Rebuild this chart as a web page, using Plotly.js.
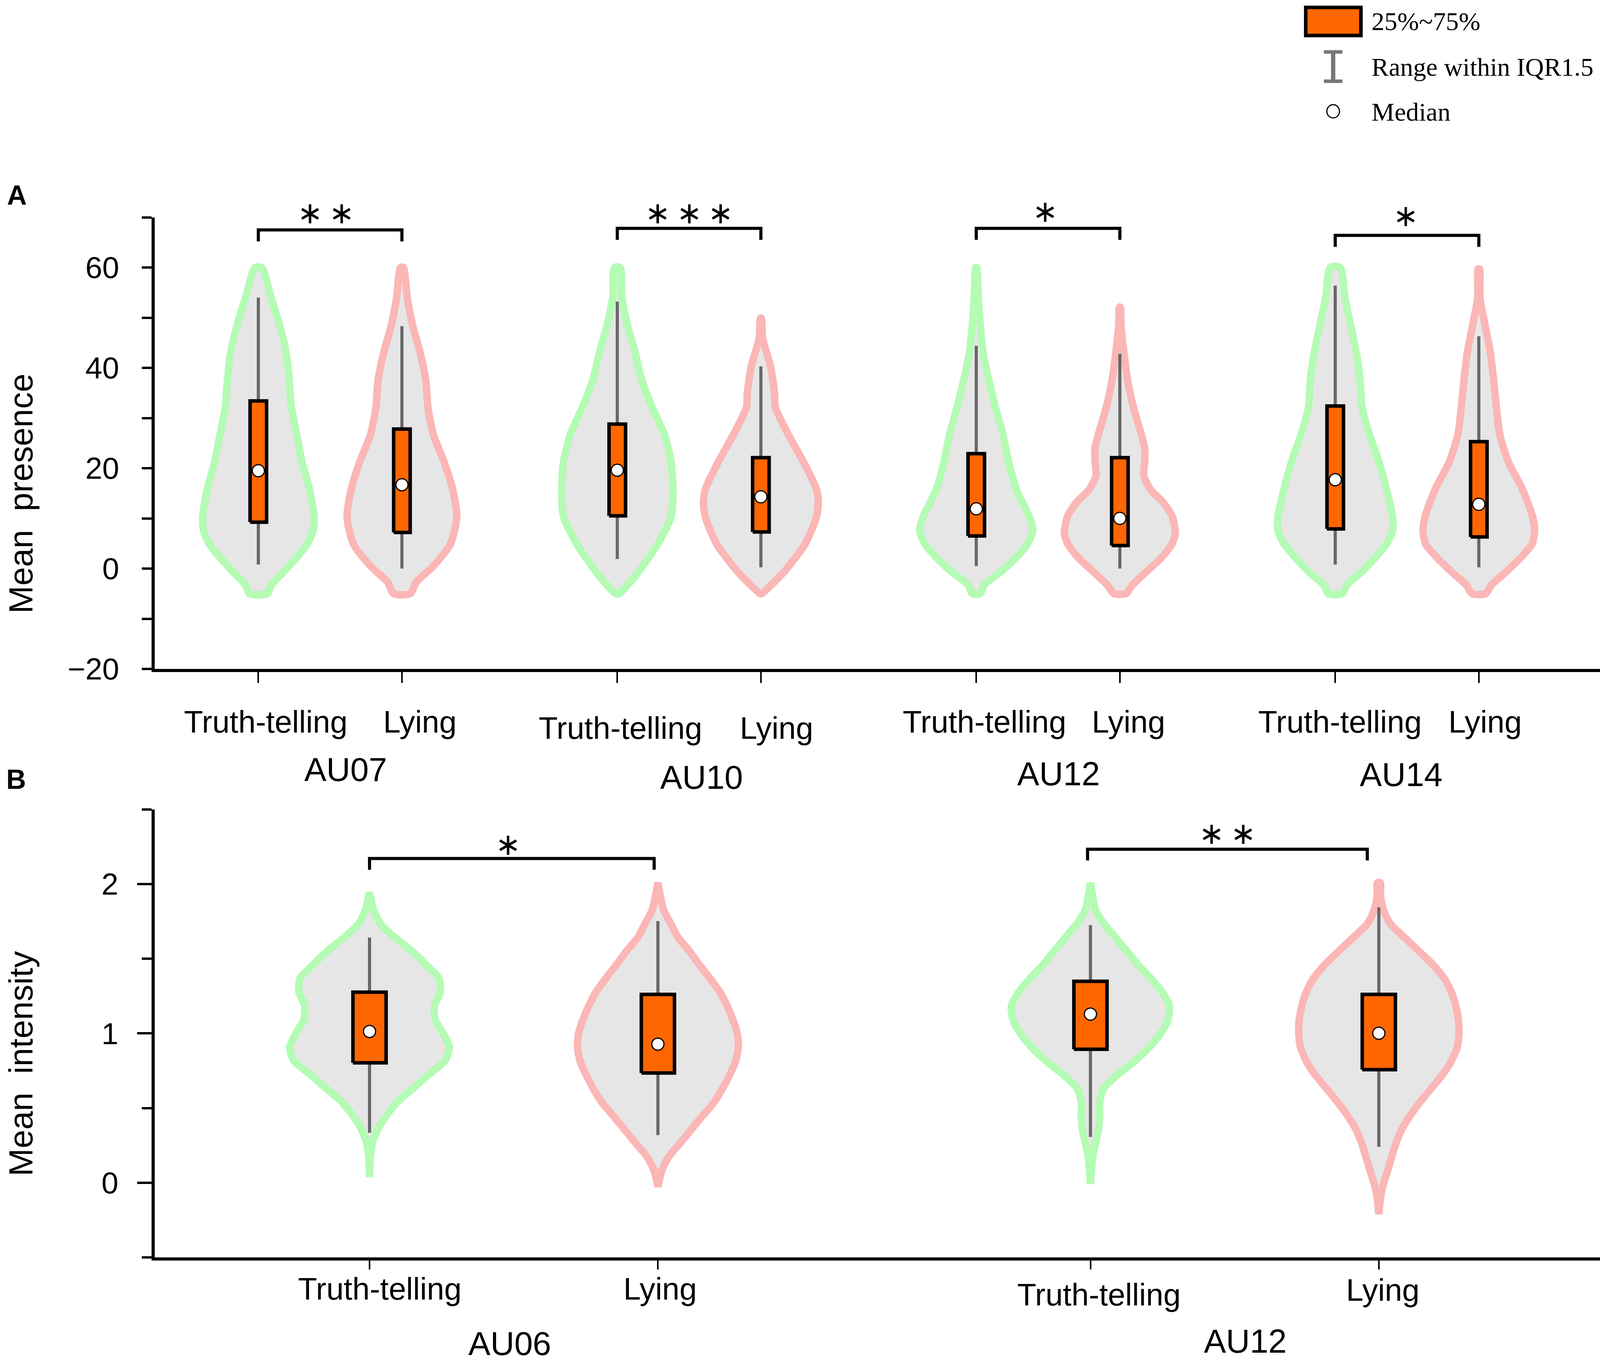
<!DOCTYPE html>
<html>
<head>
<meta charset="utf-8">
<script src="https://cdn.plot.ly/plotly-3.0.1.min.js"></script>
<style>html,body{margin:0;padding:0;background:#fff;overflow:hidden;}</style>
</head>
<body>
<div id="chart"></div>
<script>
// ---------------- DATA ----------------
const conditions = ['Truth-telling', 'Lying'];

// Panel A: Mean presence
const presenceGroups = ['AU07', 'AU10', 'AU12', 'AU14'];
const presenceStars = ['**', '***', '*', '*'];
// order: AU07 T, AU07 L, AU10 T, AU10 L, AU12 T, AU12 L, AU14 T, AU14 L
const presenceLow    = [0.8, 0.0, 1.9, 0.25, 0.5, 0.0, 0.8, 0.25];
const presenceQ1     = [9.25, 7.2, 10.5, 7.3, 6.5, 4.6, 7.9, 6.3];
const presenceMedian = [19.5, 16.7, 19.6, 14.3, 11.9, 10.0, 17.7, 12.8];
const presenceQ3     = [33.4, 27.8, 28.8, 22.1, 22.9, 22.1, 32.4, 25.3];
const presenceHigh   = [54.0, 48.3, 53.2, 40.3, 44.4, 42.8, 56.4, 46.3];

// violin outlines: level (y) and half-width (in category units)
const au07TruthY = [-5, -3.3, -0.6, 2.2, 4.9, 7.6, 10.3, 15.8, 21.3, 26.7, 32.2, 37.6, 43.1, 48.5, 54.0, 60.0];
const au07TruthW = [0.062, 0.089, 0.178, 0.267, 0.341, 0.382, 0.388, 0.356, 0.304, 0.267, 0.23, 0.215, 0.193, 0.148, 0.089, 0.022];
const au07LyingY = [-5, -2.7, 0.5, 4.9, 10.3, 15.8, 21.3, 26.7, 32.2, 37.6, 43.1, 48.5, 54.0, 60.0];
const au07LyingW = [0.058, 0.10, 0.219, 0.338, 0.382, 0.353, 0.293, 0.219, 0.181, 0.166, 0.126, 0.074, 0.037, 0.01];
const au10TruthY = [-5, -3.3, -0.6, 4.9, 10.3, 15.8, 21.3, 26.7, 32.2, 37.6, 43.1, 48.5, 54.0, 60.0];
const au10TruthW = [0.012, 0.071, 0.15, 0.282, 0.374, 0.387, 0.374, 0.328, 0.242, 0.17, 0.124, 0.071, 0.032, 0.02];
const au10LyingY = [-5, -3.3, -0.6, 4.9, 10.3, 13.1, 15.8, 21.3, 26.7, 32.2, 34.9, 40.3, 45.8, 49.9];
const au10LyingW = [0.005, 0.071, 0.163, 0.308, 0.387, 0.40, 0.387, 0.296, 0.191, 0.10, 0.095, 0.067, 0.013, 0.003];
const au12TruthY = [-5, -3.3, -0.6, 2.2, 4.9, 7.6, 10.3, 15.8, 21.3, 26.7, 32.2, 37.6, 43.1, 48.5, 54.0, 60.0];
const au12TruthW = [0.028, 0.054, 0.173, 0.278, 0.357, 0.395, 0.37, 0.278, 0.225, 0.186, 0.133, 0.087, 0.047, 0.028, 0.014, 0.003];
const au12LyingY = [-5, -3.3, -0.6, 2.2, 4.9, 7.0, 10.3, 13.1, 15.8, 18.6, 21.3, 24.0, 26.7, 32.2, 37.6, 43.1, 48.5, 52.1];
const au12LyingW = [0.041, 0.087, 0.186, 0.291, 0.363, 0.386, 0.366, 0.304, 0.212, 0.166, 0.173, 0.173, 0.15, 0.094, 0.054, 0.028, 0.008, 0.003];
const au14TruthY = [-5, -3.3, -0.6, 2.2, 4.9, 7.6, 10.3, 15.8, 21.3, 26.7, 32.2, 37.6, 43.1, 48.5, 54.0, 60.0];
const au14TruthW = [0.047, 0.08, 0.186, 0.278, 0.357, 0.399, 0.399, 0.357, 0.304, 0.238, 0.186, 0.173, 0.146, 0.107, 0.067, 0.034];
const au14LyingY = [-5, -3.3, -0.6, 2.2, 4.9, 7.6, 10.3, 15.8, 21.3, 26.7, 32.2, 37.6, 43.1, 48.5, 54.0, 59.7];
const au14LyingW = [0.047, 0.087, 0.192, 0.292, 0.371, 0.389, 0.375, 0.304, 0.205, 0.146, 0.122, 0.103, 0.08, 0.043, 0.008, 0.005];

// Panel B: Mean intensity
const intensityGroups = ['AU06', 'AU12'];
const intensityStars = ['*', '**'];
const intensityLow    = [0.335, 0.319, 0.307, 0.24];
const intensityQ1     = [0.803, 0.735, 0.894, 0.757];
const intensityMedian = [1.013, 0.928, 1.129, 1.001];
const intensityQ3     = [1.276, 1.261, 1.349, 1.261];
const intensityHigh   = [1.642, 1.752, 1.725, 1.844];

const au06TruthY = [0.038, 0.175, 0.267, 0.359, 0.45, 0.542, 0.634, 0.726, 0.817, 0.909, 1.001, 1.092, 1.184, 1.276, 1.367, 1.459, 1.551, 1.642, 1.734, 1.826, 1.945];
const au06TruthW = [0, 0.003, 0.01, 0.029, 0.058, 0.097, 0.152, 0.206, 0.262, 0.277, 0.255, 0.228, 0.225, 0.245, 0.241, 0.196, 0.147, 0.088, 0.038, 0.014, 0];
const au06LyingY = [-0.026, 0.084, 0.175, 0.267, 0.359, 0.45, 0.542, 0.634, 0.726, 0.817, 0.909, 1.001, 1.092, 1.184, 1.276, 1.367, 1.459, 1.551, 1.642, 1.734, 1.826, 2.009];
const au06LyingW = [0, 0.014, 0.038, 0.078, 0.117, 0.156, 0.196, 0.225, 0.25, 0.27, 0.279, 0.275, 0.26, 0.24, 0.215, 0.181, 0.144, 0.109, 0.07, 0.045, 0.02, 0];
const au12bTruthY = [-0.008, 0.175, 0.267, 0.359, 0.45, 0.542, 0.634, 0.726, 0.817, 0.909, 1.001, 1.092, 1.184, 1.276, 1.367, 1.459, 1.551, 1.642, 1.734, 1.826, 2.009];
const au12bTruthW = [0, 0.008, 0.018, 0.028, 0.032, 0.032, 0.047, 0.096, 0.155, 0.205, 0.244, 0.269, 0.274, 0.249, 0.21, 0.165, 0.126, 0.087, 0.047, 0.018, 0];
const au12bLyingY = [-0.21, -0.1, -0.008, 0.084, 0.175, 0.267, 0.359, 0.45, 0.542, 0.634, 0.726, 0.817, 0.909, 1.001, 1.092, 1.184, 1.276, 1.367, 1.459, 1.551, 1.642, 1.734, 1.826, 1.918, 2.009];
const au12bLyingW = [0, 0.006, 0.016, 0.031, 0.045, 0.06, 0.08, 0.109, 0.144, 0.183, 0.222, 0.252, 0.272, 0.278, 0.276, 0.267, 0.252, 0.227, 0.188, 0.139, 0.089, 0.04, 0.016, 0.006, 0.005];

// ---------------- LAYOUT / STYLE ----------------
// Reference geometry is 4317 x 3493; the page fits it into the real viewport width.
const W = 4317, H = 3493;
const VW = Math.min(window.innerWidth || W, W);
const XS = VW / W;               // horizontal fit factor
const FS = Math.sqrt(XS);        // font scale (compromise between x and y)
document.getElementById('chart').style.width = VW + 'px';
document.getElementById('chart').style.height = H + 'px';
const PX = v => v / W;
const PY = v => 1 - v / H;
const FILL = '#e6e6e6', GREEN = '#b4fbb4', PINK = '#fbb6b6', ORANGE = '#ff6600', WHISK = '#676767';
const SANS = 'Liberation Sans, Arial, sans-serif';
const SERIF = 'Liberation Serif, Times New Roman, serif';
const STAR = '\u2217';
const GROUP_STEP = 2.5, BOX_HW = 0.0575;
const pos = i => Math.floor(i / 2) * GROUP_STEP + (i % 2);

const panels = [
  {xa: 'x', ya: 'y', groups: presenceGroups, stars: presenceStars,
   outlines: [[au07TruthY, au07TruthW], [au07LyingY, au07LyingW], [au10TruthY, au10TruthW], [au10LyingY, au10LyingW],
              [au12TruthY, au12TruthW], [au12LyingY, au12LyingW], [au14TruthY, au14TruthW], [au14LyingY, au14LyingW]],
   low: presenceLow, q1: presenceQ1, med: presenceMedian, q3: presenceQ3, high: presenceHigh,
   bracketTop: [67.5, 67.8, 67.8, 66.4], bracketDrop: 2.3, starPix: [545, 545, 541, 552], starOff: [-0.03, 0, -0.02, -0.01],
   bracketEnds: [[0, 0], [0, 0], [0, 0], [0, 0]]},
  {xa: 'x2', ya: 'y2', groups: intensityGroups, stars: intensityStars,
   outlines: [[au06TruthY, au06TruthW], [au06LyingY, au06LyingW], [au12bTruthY, au12bTruthW], [au12bLyingY, au12bLyingW]],
   low: intensityLow, q1: intensityQ1, med: intensityMedian, q3: intensityQ3, high: intensityHigh,
   bracketTop: [2.171, 2.233], bracketDrop: 0.075, starPix: [2162, 2134], starOff: [-0.02, -0.025],
   bracketEnds: [[0, -0.013], [-0.01, -0.04]]}
];

const traces = [];
panels.forEach(p => {
  // violins
  p.outlines.forEach((o, i) => {
    const c = pos(i), ys = o[0], ws = o[1];
    const xs = [], yy = [];
    for (let j = 0; j < ys.length; j++) { xs.push(c + ws[j]); yy.push(ys[j]); }
    for (let j = ys.length - 1; j >= 0; j--) { xs.push(c - ws[j]); yy.push(ys[j]); }
    xs.push(xs[0]); yy.push(yy[0]);
    traces.push({type: 'scatter', mode: 'lines', x: xs, y: yy, xaxis: p.xa, yaxis: p.ya,
      fill: 'toself', fillcolor: FILL, line: {color: i % 2 ? PINK : GREEN, width: 19, shape: 'spline', smoothing: 0.7},
      hoverinfo: 'skip', showlegend: false});
  });
  // whiskers
  const wx = [], wy = [];
  p.low.forEach((v, i) => { wx.push(pos(i), pos(i), null); wy.push(v, p.high[i], null); });
  traces.push({type: 'scatter', mode: 'lines', x: wx, y: wy, xaxis: p.xa, yaxis: p.ya,
    line: {color: WHISK, width: 8}, hoverinfo: 'skip', showlegend: false});
  // boxes
  const bx = [], by = [];
  p.q1.forEach((v, i) => {
    const c = pos(i);
    bx.push(c - BOX_HW, c + BOX_HW, c + BOX_HW, c - BOX_HW, c - BOX_HW, null);
    by.push(v, v, p.q3[i], p.q3[i], v, null);
  });
  traces.push({type: 'scatter', mode: 'lines', x: bx, y: by, xaxis: p.xa, yaxis: p.ya,
    fill: 'toself', fillcolor: ORANGE, line: {color: '#000', width: 9}, hoverinfo: 'skip', showlegend: false});
  // medians
  traces.push({type: 'scatter', mode: 'markers', x: p.med.map((v, i) => pos(i)), y: p.med, xaxis: p.xa, yaxis: p.ya,
    marker: {size: 31, color: '#fff', line: {color: '#000', width: 3}}, hoverinfo: 'skip', showlegend: false, cliponaxis: false});
  // significance brackets
  const kx = [], ky = [];
  p.groups.forEach((g, gi) => {
    const a = gi * GROUP_STEP + p.bracketEnds[gi][0], b = gi * GROUP_STEP + 1 + p.bracketEnds[gi][1];
    const t = p.bracketTop[gi];
    kx.push(a, a, b, b, null); ky.push(t - p.bracketDrop, t, t, t - p.bracketDrop, null);
  });
  traces.push({type: 'scatter', mode: 'lines', x: kx, y: ky, xaxis: p.xa, yaxis: p.ya,
    line: {color: '#000', width: 8}, hoverinfo: 'skip', showlegend: false, cliponaxis: false});
});

const annotations = [];
function txt(text, x, y, size, opts) {
  const o = Object.assign({text: text, x: PX(x), y: PY(y), xref: 'paper', yref: 'paper',
    xanchor: 'center', yanchor: 'middle', showarrow: false,
    font: {family: SANS, size: size * FS, color: '#000'}}, opts || {});
  annotations.push(o);
}
// significance stars (x on the data axis, y in page pixels above the plot)
panels.forEach(p => {
  p.stars.forEach((s, gi) => {
    const n = s.length;
    const cx = gi * GROUP_STEP + 0.5 + p.starOff[gi];
    for (let k = 0; k < n; k++) {
      annotations.push({text: STAR, x: cx, y: PY(p.starPix[gi]), xref: p.xa, yref: 'paper', xanchor: 'center', yanchor: 'middle',
        xshift: (k - (n - 1) / 2) * 85 * XS, showarrow: false, font: {family: 'DejaVu Sans', size: 80 * FS, color: '#000'}});
    }
  });
});
// category labels (pixel positions of the text in the reference)
const labelPosA = [[717, 1848], [1133, 1848], [1674, 1865], [2095, 1865], [2657, 1848], [3045, 1848], [3616, 1848], [4007, 1848]];
const groupPosA = [[933, 1970], [1893, 1990], [2856, 1981], [3781, 1983]];
const labelPosB = [[1025, 3300], [1781, 3300], [2965, 3315], [3731, 3303]];
const groupPosB = [[1375, 3440], [3360, 3434]];
labelPosA.forEach((pp, i) => txt(conditions[i % 2], pp[0], pp[1], 82));
groupPosA.forEach((pp, i) => txt(presenceGroups[i], pp[0], pp[1], 87));
labelPosB.forEach((pp, i) => txt(conditions[i % 2], pp[0], pp[1], 82));
groupPosB.forEach((pp, i) => txt(intensityGroups[i], pp[0], pp[1], 87));
// axis titles and panel letters
txt('Mean\u00a0 presence', 56, 1264, 88, {textangle: -90});
txt('Mean\u00a0 intensity', 56, 2724, 88, {textangle: -90});
txt('<b>A</b>', 46, 500, 72);
txt('<b>B</b>', 44, 1996, 72);
// legend texts
const legFont = {family: SERIF, size: 68 * FS, color: '#000'};
txt('25%~75%', 3698, 54, 68, {xanchor: 'left', font: legFont});
txt('Range within IQR1.5', 3698, 171, 68, {xanchor: 'left', font: legFont});
txt('Median', 3698, 287, 68, {xanchor: 'left', font: legFont});

const shapes = [
  {type: 'rect', xref: 'paper', yref: 'paper', x0: PX(3523), x1: PX(3672), y0: PY(91), y1: PY(19),
   fillcolor: ORANGE, line: {color: '#000', width: 9}},
  {type: 'line', xref: 'paper', yref: 'paper', x0: PX(3597), x1: PX(3597), y0: PY(132), y1: PY(209), line: {color: '#777', width: 11}},
  {type: 'line', xref: 'paper', yref: 'paper', x0: PX(3572), x1: PX(3622), y0: PY(133), y1: PY(133), line: {color: '#777', width: 9}},
  {type: 'line', xref: 'paper', yref: 'paper', x0: PX(3572), x1: PX(3622), y0: PY(208), y1: PY(208), line: {color: '#777', width: 9}},
  {type: 'circle', xref: 'paper', yref: 'paper', x0: PX(3580), x1: PX(3614), y0: PY(302), y1: PY(268),
   fillcolor: '#fff', line: {color: '#000', width: 3}}
];

const tickFont = {family: SANS, size: 80 * FS, color: '#000'};
const xBase = {showline: true, linecolor: '#000', linewidth: 8, showgrid: false, zeroline: false,
  ticks: 'outside', tickcolor: '#000', showticklabels: false, automargin: false, fixedrange: true};
const yBase = {showline: true, linecolor: '#000', linewidth: 8, showgrid: false, zeroline: false,
  ticks: 'outside', tickcolor: '#000', tickfont: tickFont, automargin: false, fixedrange: true};

const layout = {
  width: VW, height: H, margin: {l: 0, r: 0, t: 0, b: 0},
  paper_bgcolor: '#fff', plot_bgcolor: 'rgba(0,0,0,0)', showlegend: false,
  xaxis: Object.assign({}, xBase, {domain: [PX(417), 1], range: [-0.7228, 9.344], anchor: 'y',
    tickmode: 'array', tickvals: presenceMedian.map((v, i) => pos(i)), ticklen: 28, tickwidth: 4}),
  yaxis: Object.assign({}, yBase, {domain: [PY(1713), PY(556.5)], range: [-20, 70], anchor: 'x',
    tickmode: 'array', tickvals: [-20, 0, 20, 40, 60], ticklen: 25, tickwidth: 6, ticklabelstandoff: 42,
    minor: {tickmode: 'linear', tick0: 0, dtick: 10, ticks: 'outside', ticklen: 25, tickwidth: 6, tickcolor: '#000', showgrid: false}}),
  xaxis2: Object.assign({}, xBase, {domain: [PX(417), 1], range: [-0.7455, 4.267], anchor: 'y2',
    tickmode: 'array', tickvals: intensityMedian.map((v, i) => pos(i)), ticklen: 23, tickwidth: 4}),
  yaxis2: Object.assign({}, yBase, {domain: [PY(3220), PY(2072.7)], range: [-0.5, 2.5], anchor: 'x2',
    tickmode: 'array', tickvals: [0, 1, 2], ticklen: 37, tickwidth: 6, ticklabelstandoff: 32,
    minor: {tickmode: 'linear', tick0: 0, dtick: 0.5, ticks: 'outside', ticklen: 25, tickwidth: 6, tickcolor: '#000', showgrid: false}}),
  annotations: annotations,
  shapes: shapes
};

Plotly.newPlot('chart', traces, layout, {staticPlot: true, displayModeBar: false});
</script>
</body>
</html>
